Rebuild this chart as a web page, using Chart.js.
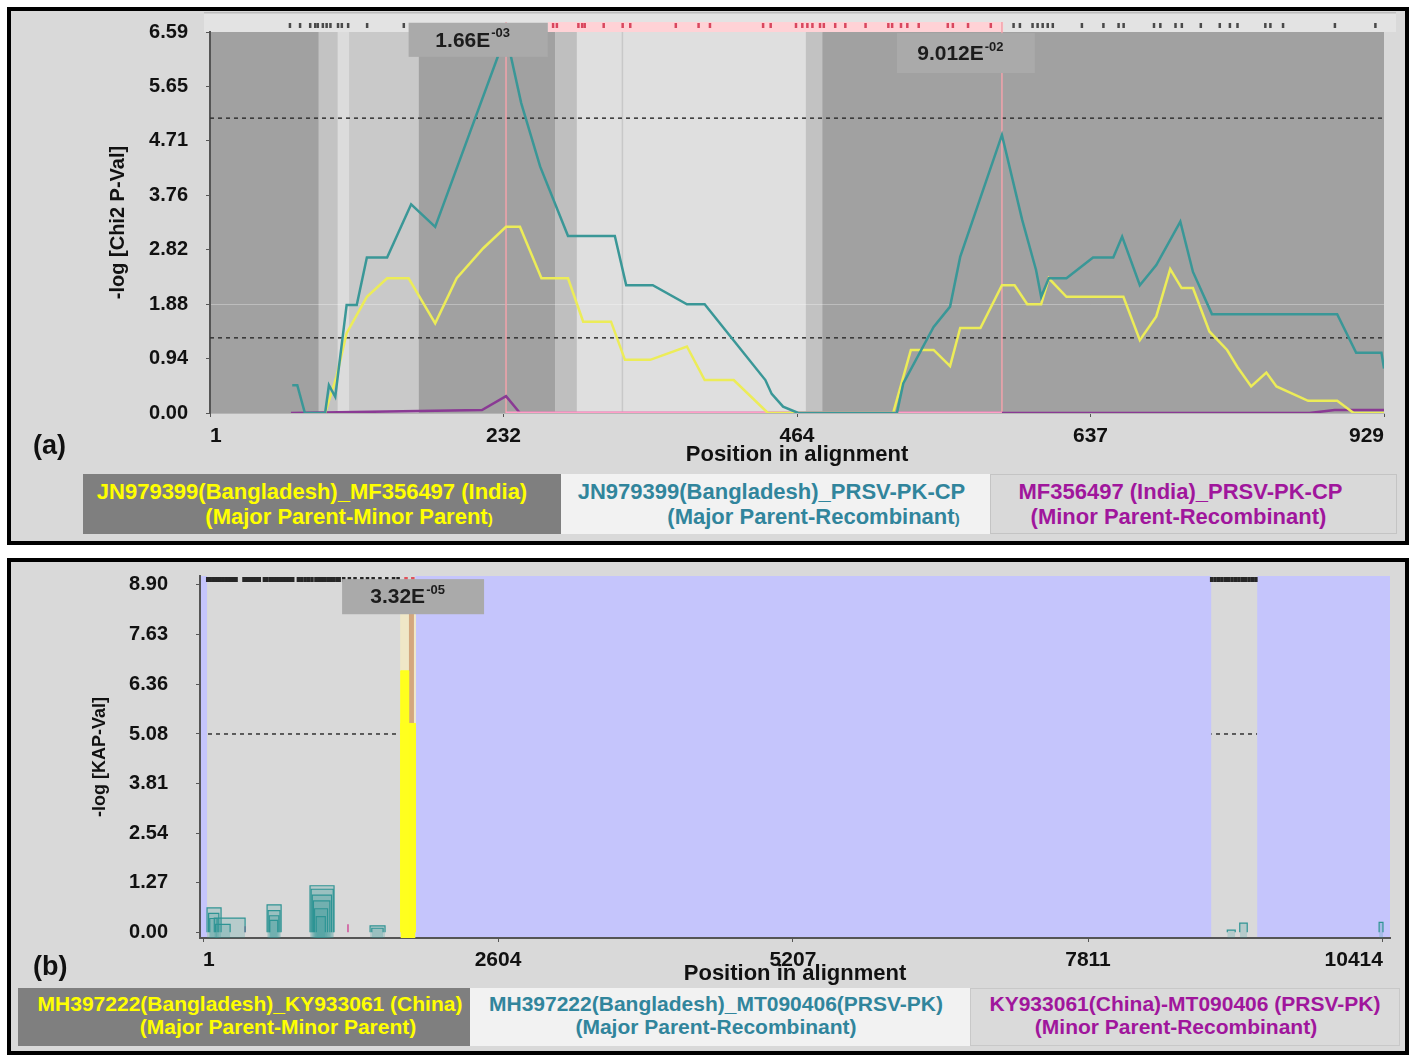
<!DOCTYPE html>
<html>
<head>
<meta charset="utf-8">
<script src="https://cdn.jsdelivr.net/npm/chart.js@4.4.1/dist/chart.umd.min.js"></script>
<style>
  body { margin: 0; background: #fff; font-family: "Liberation Sans", Arial, sans-serif; }
  #page { position: relative; width: 1411px; height: 1055px; overflow: hidden; }
  .panel { position: absolute; left: 7px; width: 1402px; box-sizing: border-box; border: 4px solid #000; background: #d9d9d9; }
  canvas { position: absolute; left: 0; }
  .tag { position: absolute; left: 33px; font-weight: bold; font-size: 27px; color: #111; }
  .key { position: absolute; box-sizing: border-box; font-weight: bold; text-align: center; }
  .key span { display: block; position: relative; white-space: nowrap; }
  .small { font-size: 15px; }
</style>
</head>
<body>
<div id="page">
  <div class="panel" style="top:7px; height:538px;"></div>
  <div class="panel" style="top:558px; height:497px;"></div>

  <canvas id="chartA" width="1411" height="470" style="top:0; width:1411px; height:470px;"></canvas>
  <canvas id="chartB" width="1411" height="430" style="top:560px; width:1411px; height:430px;"></canvas>

  <div class="tag" style="top:430px;">(a)</div>
  <div class="tag" style="top:951px;">(b)</div>

  <div class="key" style="left:83px; top:474px; width:478px; height:60px; background:#7f7f7f; color:#ffff00; font-size:22px; line-height:25px; padding-top:5px;">
    <span style="left:-10px;">JN979399(Bangladesh)_MF356497 (India)</span>
    <span style="left:27px;">(Major Parent-Minor Parent<span class="small" style="display:inline;">)</span></span>
  </div>
  <div class="key" style="left:561px; top:474px; width:429px; height:60px; background:#f2f2f2; color:#31859c; font-size:22px; line-height:25px; padding-top:5px;">
    <span style="left:-4px;">JN979399(Bangladesh)_PRSV-PK-CP</span>
    <span style="left:38px;">(Major Parent-Recombinant<span class="small" style="display:inline;">)</span></span>
  </div>
  <div class="key" style="left:990px; top:474px; width:407px; height:60px; background:#d9d9d9; border:1px solid #c4c4c4; color:#a0169c; font-size:22px; line-height:25px; padding-top:4px;">
    <span style="left:-13px;">MF356497 (India)_PRSV-PK-CP</span>
    <span style="left:-15px;">(Minor Parent-Recombinant)</span>
  </div>

  <div class="key" style="left:18px; top:988px; width:452px; height:58px; background:#7f7f7f; color:#ffff00; font-size:21px; line-height:23px; padding-top:4px;">
    <span style="left:6px;">MH397222(Bangladesh)_KY933061 (China)</span>
    <span style="left:34px;">(Major Parent-Minor Parent)</span>
  </div>
  <div class="key" style="left:470px; top:988px; width:500px; height:58px; background:#f2f2f2; color:#31859c; font-size:21px; line-height:23px; padding-top:4px;">
    <span style="left:-4px;">MH397222(Bangladesh)_MT090406(PRSV-PK)</span>
    <span style="left:-4px;">(Major Parent-Recombinant)</span>
  </div>
  <div class="key" style="left:970px; top:988px; width:430px; height:58px; background:#dadada; border:1px solid #c8c8c8; color:#a0169c; font-size:21px; line-height:23px; padding-top:3px;">
    <span style="left:0px;">KY933061(China)-MT090406 (PRSV-PK)</span>
    <span style="left:-9px;">(Minor Parent-Recombinant)</span>
  </div>
</div>

<script>
// ---- panel (a): -log Chi2 P-value along the CP alignment ----
const chiTickPos = [1, 233, 465, 697, 929];
const chiTickLabels = ['1', '232', '464', '637', '929'];
const chiYTicks = [0, 0.94, 1.88, 2.82, 3.76, 4.71, 5.65, 6.59];

// Major Parent - Minor Parent (yellow)
const majorMinorPos = [92, 101, 109, 125, 141, 158, 179, 196, 217, 235, 246, 263, 284, 296, 318, 329, 349, 378, 392, 415,
  442, 541, 555, 573, 586, 594, 610, 627, 637, 647, 658, 664, 678, 723, 736, 749, 760, 769, 778, 791,
  805, 813, 824, 836, 844, 869, 892, 905, 929];
const majorMinorVal = [0, 0.63, 1.38, 2.01, 2.33, 2.33, 1.55, 2.33, 2.85, 3.22, 3.22, 2.33, 2.33, 1.58, 1.58, 0.92, 0.92, 1.15, 0.57, 0.57,
  0, 0, 1.09, 1.09, 0.81, 1.47, 1.47, 2.21, 2.21, 1.88, 1.88, 2.33, 2.01, 2.01, 1.26, 1.67, 2.49, 2.16, 2.16, 1.41,
  1.09, 0.80, 0.46, 0.70, 0.46, 0.21, 0.21, 0, 0];

// Major Parent - Recombinant (teal)
const majorRecPos = [66, 70, 76, 92, 95, 100, 109, 117, 125, 141, 160, 179, 235, 247, 262, 284, 321, 330, 351, 378,
  392, 440, 445, 454, 466, 544, 549, 573, 586, 594, 627, 643, 654, 658, 664, 678, 699, 715, 722, 736,
  749, 768, 778, 793, 892, 907, 927, 929];
const majorRecVal = [0.48, 0.48, 0, 0, 0.48, 0.28, 1.87, 1.87, 2.69, 2.69, 3.61, 3.22, 6.55, 5.36, 4.26, 3.06, 3.06, 2.21, 2.21, 1.88,
  1.88, 0.57, 0.33, 0.11, 0, 0, 0.51, 1.49, 1.84, 2.70, 4.81, 3.34, 2.47, 2.01, 2.33, 2.33, 2.69, 2.69, 3.05, 2.21,
  2.56, 3.31, 2.44, 1.71, 1.71, 1.04, 1.04, 0.77];

// Minor Parent - Recombinant (purple)
const minorRecPos = [65, 216, 235, 246, 870, 890, 929];
const minorRecVal = [0, 0.05, 0.29, 0, 0, 0.05, 0.05];

// recombinant region highlighted on the baseline
const overlapPos = [235, 627];
const overlapVal = [0, 0];

const chiBreakpoints = [235, 627];
const chiThresholds = [5.10, 1.30];
const chiGuide = 327;
const chiBandStart = [1, 87, 102, 111, 166, 274, 291, 472, 485];
const chiBandEnd = [87, 102, 111, 166, 274, 291, 472, 485, 929];
const chiPinkSpan = [268, 628];
const chiSites = [64, 72, 80, 84, 86, 90, 93, 96, 102, 105, 110, 125, 154,
  272, 275, 292, 295, 297, 312, 327, 333, 369, 387, 396, 438, 444, 464, 469, 473, 477, 483, 486, 495, 503, 519,
  537, 540, 547, 552, 561, 584, 588, 600, 618,
  636, 641, 651, 655, 659, 663, 667, 690, 707, 719, 723, 747, 752, 764, 769, 784, 799, 807, 813, 835, 839, 849, 890, 922];
const chiFlags = [
  { from: 158, to: 268, top: 6.75, bottom: 6.16, base: '1.66E', power: '-03' },
  { from: 544, to: 653, top: 6.57, bottom: 5.88, base: '9.012E', power: '-02' }
];

// ---- panel (b): -log KAP value along the full genome ----
const kapTickPos = [1, 2604, 5207, 7811, 10414];
const kapTickLabels = ['1', '2604', '5207', '7811', '10414'];
const kapYTicks = [0, 1.27, 2.54, 3.81, 5.08, 6.36, 7.63, 8.90];
const kapThreshold = 5.08;

// Major Parent - Recombinant windows (teal)
const kapRectStart = [36, 50, 60, 100, 110, 566, 575, 585, 590, 945, 955, 965, 975, 985, 1000, 1475, 1490, 9040, 9150, 10380];
const kapRectEnd = [160, 140, 125, 372, 240, 690, 680, 670, 660, 1157, 1150, 1135, 1120, 1100, 1080, 1607, 1590, 9110, 9216, 10414];
const kapRectHeight = [0.62, 0.48, 0.35, 0.36, 0.2, 0.70, 0.55, 0.42, 0.3, 1.19, 1.1, 0.95, 0.8, 0.6, 0.4, 0.16, 0.1, 0.05, 0.23, 0.25];

// Minor Parent - Recombinant (purple)
const kapMinorPos = [372, 1280];
const kapMinorVal = [0.15, 0.2];

// Major Parent - Minor Parent (yellow)
const kapSpikeStart = [1745, 1745];
const kapSpikeEnd = [1815, 1875];
const kapSpikeHeight = [6.7, 5.35];
const kapPaleSpan = [1745, 1875, 8.95];
const kapBreakpoint = 1840;

const kapXMin = -26;
const kapXMax = 10476;
const kapGreyStart = [36, 8898];
const kapGreyEnd = [1875, 9304];
const kapBlueStart = [kapXMin, 1875, 9304];
const kapBlueEnd = [36, 8898, kapXMax];
const kapSites = [40, 60, 85, 110, 130, 150, 175, 200, 225, 250, 270, 290, 360, 380, 400, 425, 450, 470, 495,
  540, 560, 590, 610, 630, 650, 670, 690, 710, 735, 760, 790, 840, 870, 900, 930, 960,
  995, 1020, 1045, 1070, 1100, 1125, 1150, 1180, 1200, 1240, 1290, 1340, 1400, 1450, 1500, 1560, 1620, 1680, 1720, 1790, 1850,
  8900, 8930, 8960, 8990, 9020, 9050, 9080, 9110, 9140, 9170, 9200, 9230, 9260, 9290];
const kapFlags = [
  { from: 1228, to: 2481, top: 9.05, bottom: 8.15, base: '3.32E', power: '-05' }
];

// ---- helpers ----
const FONT = '"Liberation Sans", Arial, sans-serif';
const chiBandColors = ['#a1a1a1', '#c3c3c3', '#dcdcdc', '#c9c9c9', '#a1a1a1', '#bfbfbf', '#dfdfdf', '#c2c2c2', '#a1a1a1'];

function series(xs, ys) {
  return xs.map((x, i) => ({ x: x, y: ys[i] }));
}

function rectPoints(s, e, h) {
  return [{ x: s, y: 0 }, { x: s, y: h }, { x: e, y: h }, { x: e, y: 0 }];
}

function drawFlag(chart, f) {
  const { ctx, scales: { x, y } } = chart;
  const l = x.getPixelForValue(f.from), r = x.getPixelForValue(f.to);
  const t = y.getPixelForValue(f.top), b = y.getPixelForValue(f.bottom);
  ctx.save();
  ctx.fillStyle = '#aaaaaa';
  ctx.fillRect(l, t, r - l, b - t);
  ctx.font = 'bold 21px ' + FONT;
  const w1 = ctx.measureText(f.base).width;
  ctx.font = 'bold 13px ' + FONT;
  const w2 = ctx.measureText(f.power).width;
  const tx = (l + r) / 2 - (w1 + w2) / 2 - 6;
  const ty = (t + b) / 2 + 1;
  ctx.fillStyle = '#1c1c1c';
  ctx.textBaseline = 'middle';
  ctx.textAlign = 'left';
  ctx.font = 'bold 21px ' + FONT;
  ctx.fillText(f.base, tx, ty);
  ctx.font = 'bold 13px ' + FONT;
  ctx.fillText(f.power, tx + w1 + 1, ty - 7);
  ctx.restore();
}

function dashedLine(ctx, a, py) {
  ctx.save();
  ctx.strokeStyle = '#333';
  ctx.lineWidth = 1.5;
  ctx.setLineDash([4, 4]);
  ctx.beginPath();
  ctx.moveTo(a.left, py);
  ctx.lineTo(a.right, py);
  ctx.stroke();
  ctx.restore();
}

function axisStyle(extra) {
  return Object.assign({
    type: 'linear',
    border: { color: '#555', width: 2 },
    grid: { drawOnChartArea: false, tickLength: 4, tickColor: '#555' },
  }, extra);
}

// the chart area is fixed by hand, so drop the label overflow padding
function fixBox(w, h) {
  return s => {
    if (w) s.width = w;
    if (h) s.height = h;
    s.paddingTop = 0; s.paddingBottom = 0; s.paddingLeft = 0; s.paddingRight = 0;
  };
}

// ---- chart (a) ----
const chiBackdrop = {
  id: 'chiBackdrop',
  beforeDraw(chart) {
    const { ctx, chartArea: a, scales: { x } } = chart;
    ctx.save();
    // strip with informative sites
    ctx.fillStyle = '#e3e3e3';
    ctx.fillRect(a.left - 6, a.top - 19, a.right - a.left + 18, 19);
    ctx.fillStyle = '#bdbdbd';
    ctx.fillRect(a.left - 6, a.top - 20, a.right - a.left + 18, 1.5);
    const p0 = x.getPixelForValue(chiPinkSpan[0]), p1 = x.getPixelForValue(chiPinkSpan[1]);
    ctx.fillStyle = '#ffd2d6';
    ctx.fillRect(p0, a.top - 10, p1 - p0, 11);
    chiSites.forEach(s => {
      ctx.fillStyle = (s > chiPinkSpan[0] && s < chiPinkSpan[1]) ? '#d9475e' : '#4a4a4a';
      ctx.fillRect(x.getPixelForValue(s) - 1, a.top - 9, 2.5, 5);
    });
    // shaded regions
    chiBandStart.forEach((s, i) => {
      const l = x.getPixelForValue(s), r = x.getPixelForValue(chiBandEnd[i]);
      ctx.fillStyle = chiBandColors[i];
      ctx.fillRect(l, a.top, r - l, a.bottom - a.top);
    });
    const g = x.getPixelForValue(chiGuide);
    ctx.fillStyle = '#c8c8c8';
    ctx.fillRect(g - 0.75, a.top, 1.5, a.bottom - a.top);
    ctx.restore();
  },
  beforeDatasetsDraw(chart) {
    const { ctx, chartArea: a, scales: { x, y } } = chart;
    chiThresholds.forEach(v => dashedLine(ctx, a, y.getPixelForValue(v)));
    ctx.save();
    ctx.strokeStyle = '#f2a3ab';
    ctx.lineWidth = 1.5;
    chiBreakpoints.forEach(b => {
      const px = x.getPixelForValue(b);
      ctx.beginPath();
      ctx.moveTo(px, a.top - 10);
      ctx.lineTo(px, a.bottom);
      ctx.stroke();
    });
    ctx.restore();
  },
  afterDatasetsDraw(chart) {
    chiFlags.forEach(f => drawFlag(chart, f));
  }
};

new Chart(document.getElementById('chartA'), {
  type: 'line',
  data: {
    datasets: [
      { data: series(majorRecPos, majorRecVal), borderColor: '#3a9797', borderWidth: 2.5 },
      { data: series(majorMinorPos, majorMinorVal), borderColor: '#ecec58', borderWidth: 2.5 },
      { data: series(overlapPos, overlapVal), borderColor: '#ff9ec6', borderWidth: 3 },
      { data: series(minorRecPos, minorRecVal), borderColor: '#8a3a94', borderWidth: 2.5 }
    ]
  },
  options: {
    responsive: false,
    animation: false,
    events: [],
    elements: { point: { radius: 0 }, line: { tension: 0 } },
    layout: { padding: { left: 0, right: 27, top: 32, bottom: 0 } },
    plugins: { legend: { display: false }, tooltip: { enabled: false } },
    scales: {
      x: axisStyle({
        min: 1, max: 929,
        border: { color: '#b5b5b5', width: 1 },
        afterFit: fixBox(0, 57),
        afterBuildTicks: s => { s.ticks = chiTickPos.map(v => ({ value: v })); },
        ticks: { callback: (v, i) => chiTickLabels[i], autoSkip: false, maxRotation: 0, padding: 7, align: 'inner',
          color: '#111', font: { family: FONT, size: 21, weight: 'bold' } },
        title: { display: true, text: 'Position in alignment', color: '#111',
          font: { family: FONT, size: 22, weight: 'bold' }, padding: { top: 0, bottom: 2 } }
      }),
      y: axisStyle({
        min: 0, max: 6.59,
        grid: { drawOnChartArea: true, tickLength: 4, tickColor: '#555',
          color: c => (c.tick && c.tick.value === 1.88) ? 'rgba(255,255,255,0.3)' : 'rgba(0,0,0,0)' },
        afterFit: fixBox(210, 0),
        afterBuildTicks: s => { s.ticks = chiYTicks.map(v => ({ value: v })); },
        ticks: { callback: v => v.toFixed(2), autoSkip: false, padding: 18,
          color: '#111', font: { family: FONT, size: 20, weight: 'bold' } },
        title: { display: true, text: '-log [Chi2 P-Val]', color: '#111',
          font: { family: FONT, size: 20, weight: 'bold' }, padding: { top: 106, bottom: 0 } }
      })
    }
  },
  plugins: [chiBackdrop]
});

// ---- chart (b) ----
const kapBackdrop = {
  id: 'kapBackdrop',
  beforeDraw(chart) {
    const { ctx, chartArea: a, scales: { x, y } } = chart;
    ctx.save();
    ctx.fillStyle = '#d9d9d9';
    ctx.fillRect(a.left, a.top, a.right - a.left, a.bottom - a.top);
    ctx.restore();
    // threshold sits under the blue windows
    ctx.save();
    ctx.beginPath();
    ctx.rect(x.getPixelForValue(kapGreyStart[0]), a.top, x.getPixelForValue(kapGreyEnd[0]) - x.getPixelForValue(kapGreyStart[0]) + 3, a.bottom - a.top);
    ctx.rect(x.getPixelForValue(kapGreyStart[1]), a.top, x.getPixelForValue(kapGreyEnd[1]) - x.getPixelForValue(kapGreyStart[1]), a.bottom - a.top);
    ctx.clip();
    dashedLine(ctx, a, y.getPixelForValue(kapThreshold));
    ctx.restore();
    ctx.save();
    ctx.fillStyle = '#c5c5fc';
    kapBlueStart.forEach((s, i) => {
      const l = x.getPixelForValue(s), r = x.getPixelForValue(kapBlueEnd[i]);
      ctx.fillRect(l, a.top, r - l, a.bottom - a.top);
    });
    ctx.restore();
  },
  afterDatasetsDraw(chart) {
    const { ctx, chartArea: a, scales: { x } } = chart;
    ctx.save();
    kapSites.forEach(s => {
      ctx.fillStyle = (s > kapSpikeStart[0] && s < kapSpikeEnd[1]) ? '#e0505a' : '#262626';
      ctx.fillRect(x.getPixelForValue(s) - 1.5, a.top + 1, 3.5, 5);
    });
    ctx.restore();
    kapFlags.forEach(f => drawFlag(chart, f));
  }
};

const kapSets = [];
kapRectStart.forEach((s, i) => {
  kapSets.push({ data: rectPoints(s, kapRectEnd[i], kapRectHeight[i]), borderColor: '#2f9494', borderWidth: 1.2,
    fill: 'start', backgroundColor: 'rgba(47,148,148,0.2)' });
});
kapMinorPos.forEach((p, i) => {
  kapSets.push({ data: rectPoints(p, p, kapMinorVal[i]), borderColor: '#d0509a', borderWidth: 1.5 });
});
kapSpikeStart.forEach((s, i) => {
  kapSets.push({ data: rectPoints(s, kapSpikeEnd[i], kapSpikeHeight[i]), borderColor: '#ffff1e', borderWidth: 1,
    fill: 'start', backgroundColor: '#ffff1e' });
});
kapSets.push({ data: rectPoints(kapBreakpoint, kapBreakpoint, kapPaleSpan[2]), borderColor: 'rgba(200,140,95,0.7)', borderWidth: 5 });
kapSets.push({ data: rectPoints(kapPaleSpan[0], kapPaleSpan[1], kapPaleSpan[2]), borderColor: '#efe7c7', borderWidth: 1,
  fill: 'start', backgroundColor: '#efe7c7' });

new Chart(document.getElementById('chartB'), {
  type: 'line',
  data: { datasets: kapSets },
  options: {
    responsive: false,
    animation: false,
    events: [],
    elements: { point: { radius: 0 }, line: { tension: 0 } },
    layout: { padding: { left: 0, right: 21, top: 16, bottom: 0 } },
    plugins: { legend: { display: false }, tooltip: { enabled: false } },
    scales: {
      x: axisStyle({
        min: kapXMin, max: kapXMax,
        afterFit: fixBox(0, 52),
        afterBuildTicks: s => { s.ticks = kapTickPos.map(v => ({ value: v })); },
        ticks: { callback: (v, i) => kapTickLabels[i], autoSkip: false, maxRotation: 0, padding: 6, align: 'inner',
          color: '#111', font: { family: FONT, size: 21, weight: 'bold' } },
        title: { display: true, text: 'Position in alignment', color: '#111',
          font: { family: FONT, size: 22, weight: 'bold' }, padding: { top: 0, bottom: 3 } }
      }),
      y: axisStyle({
        min: -0.15, max: 9.13,
        afterFit: fixBox(200, 0),
        afterBuildTicks: s => { s.ticks = kapYTicks.map(v => ({ value: v })); },
        ticks: { callback: v => v.toFixed(2), autoSkip: false, padding: 28,
          color: '#111', font: { family: FONT, size: 20, weight: 'bold' } },
        title: { display: true, text: '-log [KAP-Val]', color: '#111',
          font: { family: FONT, size: 18, weight: 'bold' }, padding: { top: 89, bottom: 0 } }
      })
    }
  },
  plugins: [kapBackdrop]
});
</script>
</body>
</html>
